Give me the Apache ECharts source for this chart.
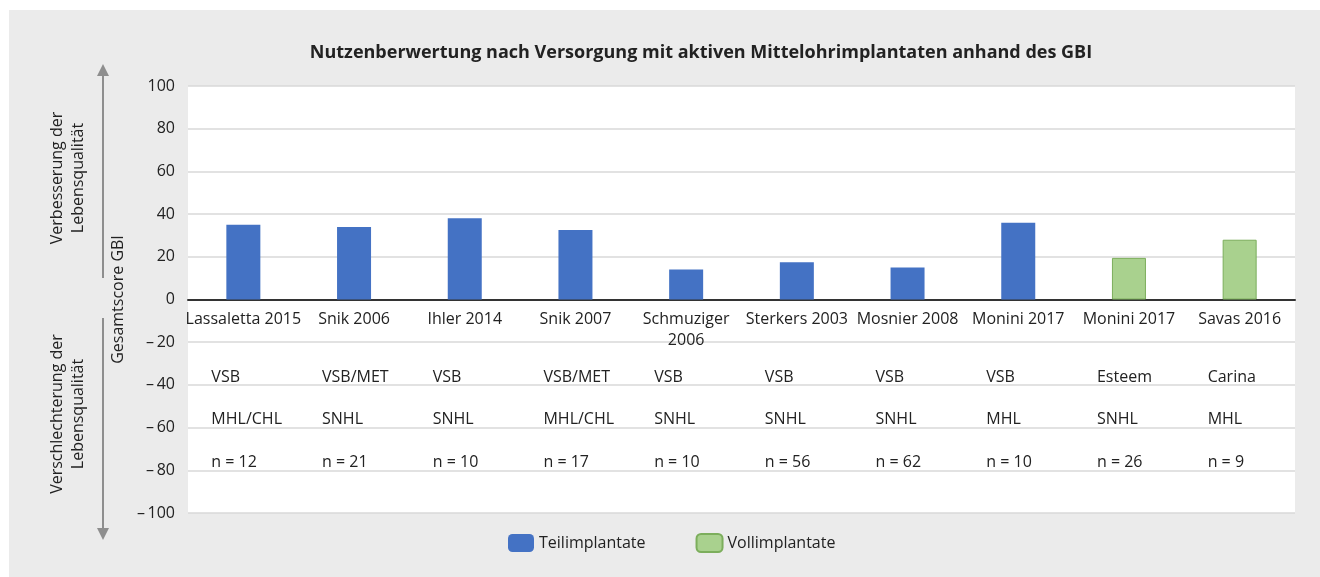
<!DOCTYPE html>
<html lang="de">
<head>
<meta charset="utf-8" />
<title>GBI</title>
<style>
  html, body { margin: 0; padding: 0; background: #fff; }
  #main { width: 1320px; height: 577px; }
</style>
</head>
<body>
<div id="main"></div>
<script src="https://cdn.jsdelivr.net/npm/echarts@6/dist/echarts.min.js"></script>
<script>
// Studien (Kategorien)
var studien = ['Lassaletta 2015', 'Snik 2006', 'Ihler 2014', 'Snik 2007', 'Schmuziger\n2006',
               'Sterkers 2003', 'Mosnier 2008', 'Monini 2017', 'Monini 2017', 'Savas 2016'];
// Gesamtscore GBI
var teilimplantate = [35, 34, 38, 32.5, 14, 17.5, 15, 36, '-', '-'];
var vollimplantate = ['-', '-', '-', '-', '-', '-', '-', '-', 19.5, 28];
// Tabellenzeilen
var implantat = ['VSB', 'VSB/MET', 'VSB', 'VSB/MET', 'VSB', 'VSB', 'VSB', 'VSB', 'Esteem', 'Carina'];
var hoerverlust = ['MHL/CHL', 'SNHL', 'SNHL', 'MHL/CHL', 'SNHL', 'SNHL', 'SNHL', 'MHL', 'SNHL', 'MHL'];
var fallzahl = ['n = 12', 'n = 21', 'n = 10', 'n = 17', 'n = 10', 'n = 56', 'n = 62', 'n = 10', 'n = 26', 'n = 9'];

var FONT = 'Open Sans';
var TXT = '#222';
var ARROW = '#8e8e8e';

// zusaetzliche Kategorieachse nur fuer Beschriftungen im Diagramm
function textAchse(daten, margin, linksbuendig) {
    return {
        type: 'category',
        data: daten,
        position: 'top',
        gridIndex: 0,
        axisLine: { show: false },
        axisTick: { show: false },
        splitLine: { show: false },
        axisLabel: {
            inside: true,
            interval: 0,
            margin: margin,
            fontFamily: FONT, fontSize: 16, color: TXT, lineHeight: 21,
            formatter: linksbuendig ? function (v) { return '{a|' + v + '}'; } : null,
            rich: { a: { width: 64, align: 'left', fontFamily: FONT, fontSize: 16, color: TXT } }
        }
    };
}

var myChart = echarts.init(document.getElementById('main'));
var option = {
    backgroundColor: '#fff',
    animation: false,
    textStyle: { fontFamily: FONT },
    title: {
        text: 'Nutzenberwertung nach Versorgung mit aktiven Mittelohrimplantaten anhand des GBI',
        left: 696,
        top: 39,
        textAlign: 'center',
        textStyle: { fontFamily: FONT, fontSize: 18, fontWeight: 'bold', color: TXT }
    },
    legend: {
        left: 503,
        top: 528,
        itemWidth: 26,
        itemHeight: 18,
        itemGap: 50,
        textStyle: { fontFamily: FONT, fontSize: 16, color: TXT },
        data: ['Teilimplantate', 'Vollimplantate']
    },
    graphic: [
        { type: 'rect', z: -10, shape: { x: 9, y: 10, width: 1311, height: 567 }, style: { fill: '#ebebeb' } },
        // Pfeile
        { type: 'line', shape: { x1: 103, y1: 278, x2: 103, y2: 74 }, style: { stroke: ARROW, lineWidth: 2 } },
        { type: 'polygon', shape: { points: [[97, 76], [103, 64], [109, 76]] }, style: { fill: ARROW } },
        { type: 'line', shape: { x1: 103, y1: 318, x2: 103, y2: 530 }, style: { stroke: ARROW, lineWidth: 2 } },
        { type: 'polygon', shape: { points: [[97, 528], [103, 540], [109, 528]] }, style: { fill: ARROW } },
        {
            type: 'text', x: 68, y: 178, rotation: Math.PI / 2,
            style: { text: 'Verbesserung der\nLebensqualität', align: 'center', verticalAlign: 'middle',
                     fontFamily: FONT, fontSize: 16, lineHeight: 21, fill: TXT }
        },
        {
            type: 'text', x: 68, y: 414, rotation: Math.PI / 2,
            style: { text: 'Verschlechterung der\nLebensqualität', align: 'center', verticalAlign: 'middle',
                     fontFamily: FONT, fontSize: 16, lineHeight: 21, fill: TXT }
        }
    ],
    grid: {
        left: 188, right: 25, top: 86, bottom: 64,
        show: true, backgroundColor: '#fff', borderWidth: 0
    },
    xAxis: [
        {
            type: 'category',
            data: studien,
            axisLine: { onZero: true, lineStyle: { color: '#333', width: 2 } },
            axisTick: { show: false },
            axisLabel: { show: false }
        },
        textAchse(studien, 223, false),
        textAchse(implantat, 281, true),
        textAchse(hoerverlust, 323, true),
        textAchse(fallzahl, 366, true)
    ],
    yAxis: {
        type: 'value',
        min: -100,
        max: 100,
        interval: 20,
        name: 'Gesamtscore GBI',
        nameLocation: 'middle',
        nameGap: 58,
        nameRotate: 90,
        nameTextStyle: { fontFamily: FONT, fontSize: 16, color: TXT },
        axisLine: { show: false },
        axisTick: { show: false },
        axisLabel: {
            margin: 13,
            fontFamily: FONT, fontSize: 16, color: TXT,
            formatter: function (v) { return v < 0 ? '\u2013\u2009' + Math.abs(v) : String(v); }
        },
        splitLine: { lineStyle: { color: '#d9d9d9', width: 1.5 } }
    },
    series: [
        {
            name: 'Teilimplantate',
            type: 'bar',
            stack: 'gbi',
            barWidth: 34,
            data: teilimplantate,
            itemStyle: { color: '#4472c4' }
        },
        {
            name: 'Vollimplantate',
            type: 'bar',
            stack: 'gbi',
            barWidth: 34,
            data: vollimplantate,
            itemStyle: { color: '#a9d18e', borderColor: '#7cae5c', borderWidth: 1 }
        }
    ]
};
myChart.setOption(option);
</script>
</body>
</html>
